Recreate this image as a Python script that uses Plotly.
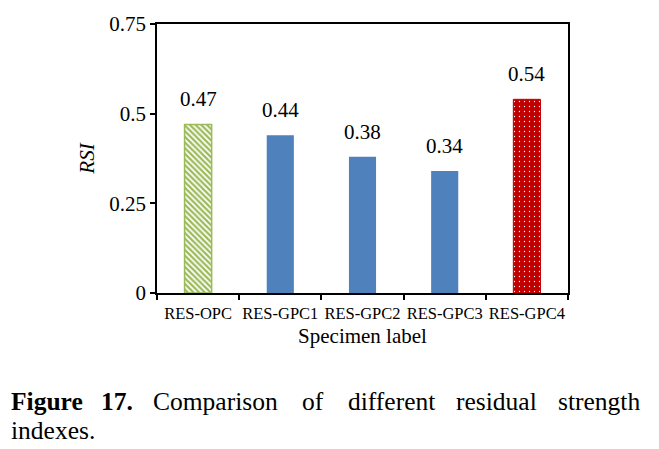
import plotly.graph_objects as go

categories = ["RES-OPC", "RES-GPC1", "RES-GPC2", "RES-GPC3", "RES-GPC4"]
rsi_values = [0.47, 0.44, 0.38, 0.34, 0.54]
value_labels = ["0.47", "0.44", "0.38", "0.34", "0.54"]
y_tick_vals = [0, 0.25, 0.5, 0.75]
y_tick_text = ["0", "0.25", "0.5", "0.75"]

W, H = 659, 449
L, R, T, B = 157, 91, 18, 156
PW = W - L - R
PH = H - T - B
FONT = "Liberation Serif, Times New Roman, serif"

GREEN = "#9BBB59"
BLUE = "#4F81BD"
RED = "#C00000"

fig = go.Figure()

# OPC bar: green diagonal hatch
fig.add_trace(go.Bar(
    x=[categories[0]], y=[rsi_values[0]], width=0.33,
    marker=dict(color="white", line=dict(color=GREEN, width=1.5),
                pattern=dict(shape="\\", fgcolor=GREEN, bgcolor="white",
                             size=4, solidity=0.55, fillmode="replace")),
    showlegend=False, hoverinfo="skip"))

# GPC1-3 solid blue
fig.add_trace(go.Bar(
    x=categories[1:4], y=rsi_values[1:4], width=0.33,
    marker=dict(color=BLUE, line=dict(width=0)),
    showlegend=False, hoverinfo="skip"))

# GPC4: red with white dots
fig.add_trace(go.Bar(
    x=[categories[4]], y=[rsi_values[4]], width=0.33,
    marker=dict(color=RED, line=dict(color=RED, width=1),
                pattern=dict(shape=".", fgcolor="white", bgcolor=RED,
                             size=5, solidity=0.05, fillmode="replace")),
    showlegend=False, hoverinfo="skip"))

annotations = []
for c, v, t in zip(categories, rsi_values, value_labels):
    annotations.append(dict(x=c, y=v, xref="x", yref="y", text=t, showarrow=False,
                            yanchor="bottom", yshift=11,
                            font=dict(family=FONT, size=21, color="black")))

def px2paper_x(px):
    return (px - L) / PW

def px2paper_y(py):
    return 1 - (py - T) / PH

CAP = 25.5
line1 = [("<b>Figure</b>", 9), ("<b>17.</b>", 99), ("Comparison", 151), ("of", 300),
         ("different", 346), ("residual", 454), ("strength", 556)]
for txt, px in line1:
    annotations.append(dict(x=px2paper_x(px), y=px2paper_y(404), xref="paper", yref="paper",
                            text=txt, showarrow=False, xanchor="left", yanchor="middle",
                            font=dict(family=FONT, size=CAP, color="black")))
annotations.append(dict(x=px2paper_x(9), y=px2paper_y(434), xref="paper", yref="paper",
                        text="indexes.", showarrow=False, xanchor="left", yanchor="middle",
                        font=dict(family=FONT, size=CAP, color="black")))

fig.update_layout(
    width=W, height=H,
    margin=dict(l=L, r=R, t=T, b=B),
    paper_bgcolor="white", plot_bgcolor="white",
    annotations=annotations,
    font=dict(family=FONT, color="black"),
)

fig.update_xaxes(
    type="category", categoryorder="array", categoryarray=categories,
    showline=True, linecolor="black", linewidth=1.5, mirror=True,
    ticks="outside", tickson="boundaries", ticklen=5, tickcolor="black", tickwidth=1.5,
    tickangle=0, ticklabelstandoff=4,
    tickfont=dict(family=FONT, size=16.5, color="black"),
    title=dict(text="Specimen label", font=dict(family=FONT, size=21, color="black"), standoff=7),
    showgrid=False,
)

fig.update_yaxes(
    range=[0, 0.75], tickvals=y_tick_vals, ticktext=y_tick_text,
    showline=True, linecolor="black", linewidth=1.5, mirror=True,
    ticks="outside", ticklen=5, tickcolor="black", tickwidth=1.5,
    tickfont=dict(family=FONT, size=21, color="black"),
    title=dict(text="<i>RSI</i>", font=dict(family=FONT, size=21, color="black"), standoff=9),
    showgrid=False, zeroline=False,
)

fig.write_html("out.html", config={"displayModeBar": False},
               post_script="document.body.style.margin='0';")
